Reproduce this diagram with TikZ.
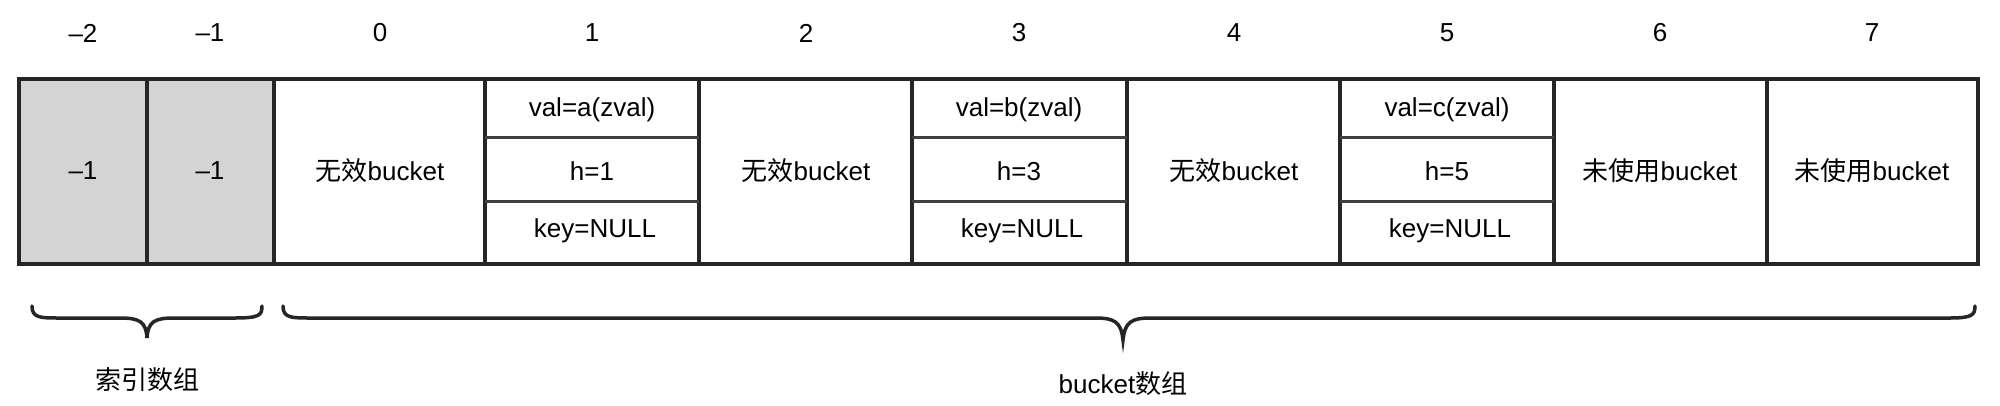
\documentclass[tikz,border=0pt]{standalone}
\usepackage{fontspec}
\setmainfont{Liberation Sans}
\newfontfamily\cjk{Noto Sans CJK SC}
\begin{document}
\begin{tikzpicture}[x=1pt,y=-1pt,
  cell/.style={draw=black!85,line width=4pt},
  sub/.style={draw=black!75,line width=3pt},
  txt/.style={font=\fontsize{26}{30}\selectfont,inner sep=0pt},
  br/.style={draw=black!85,line width=3.5pt,line cap=round}]
\useasboundingbox (0,0) rectangle (2000,405);
\fill[black!17] (19,79) rectangle (274,264);
\foreach \a/\b in {19/147,147/274,274/485,485/699,699/912,912/1127,1127/1340,1340/1554,1554/1767,1767/1978}
  \draw[cell] (\a,79) rectangle (\b,264);
\foreach \a/\b in {485/699,912/1127,1340/1554}{
  \draw[sub] (\a,137) -- (\b,137);
  \draw[sub] (\a,201) -- (\b,201);}
\foreach \x/\t [count=\i] in {83/{\textendash2},210/{\textendash1},380/0,592/1,806/2,1019/3,1234/4,1447/5,1660/6,1872/7}
  \node[txt] (l\i) at (\x,33) {\t};
\node[txt] (c1) at (83,171) {\textendash1};
\node[txt] (c2) at (210,171) {\textendash1};
\foreach \x/\n in {380/a,806/b,1234/c}
  \node[txt] (inv\n) at (\x,171) {{\cjk 无效}bucket};
\node[txt] (u1) at (1660,171) {{\cjk 未使用}bucket};
\node[txt] (u2) at (1872,171) {{\cjk 未使用}bucket};
\foreach \x/\v/\h in {592/a/1,1019/b/3,1447/c/5}{
  \node[txt] at (\x,110) {val=\v(zval)};
  \node[txt] at (\x,171) {h=\h};
  \node[txt] at (\x+3,231) {key=NULL};}
\draw[br] (32,306) .. controls (32,318) and (40,318) .. (60,318) -- (120,318)
  .. controls (140,318) and (146,322) .. (147,338)
  .. controls (148,322) and (154,318) .. (174,318) -- (235,318)
  .. controls (260,318) and (262,315) .. (262,306);
\draw[br] (283,306) .. controls (283,318) and (291,318) .. (311,318) -- (1095,318)
  .. controls (1115,318) and (1121,322) .. (1123,340)
  .. controls (1125,322) and (1131,318) .. (1151,318) -- (1950,318)
  .. controls (1972,318) and (1975,315) .. (1975,306);
\node[txt] (t1) at (147,380) {\cjk 索引数组};
\node[txt] (t2) at (1123,384) {bucket{\cjk 数组}};
\end{tikzpicture}
\end{document}
